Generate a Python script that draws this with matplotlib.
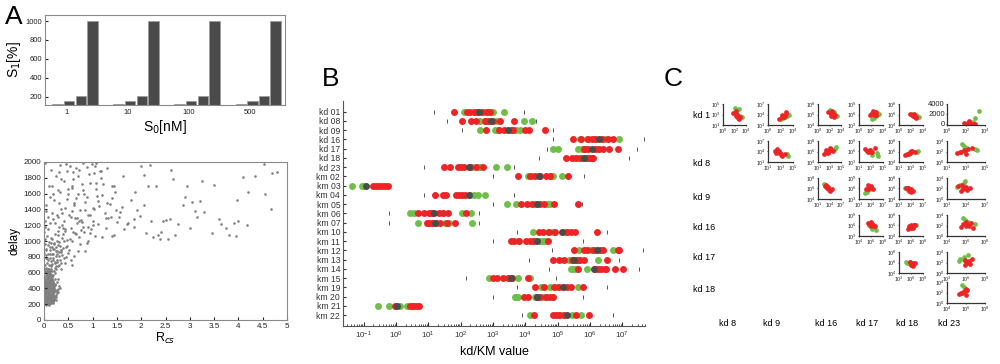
import numpy as np
import matplotlib.pyplot as plt
from matplotlib.ticker import LogLocator, NullFormatter

plt.rcParams['font.family'] = ['Liberation Sans', 'DejaVu Sans']

# ---- panel A (top): S1 per S0 concentration
conc_labels = ['1', '10', '100', '500']
s1_values = [125, 155, 205, 1000]

# ---- panel A (bottom): delay vs R_cs
rcs_dense = [0.02, 0.05, 0.08, 0.11, 0.14, 0.03, 0.07, 0.12, 0.16, 0.19, 0.01, 0.04, 0.09, 0.13, 0.18, 0.22, 0.06, 0.10, 0.15, 0.21,
             0.03, 0.08, 0.12, 0.17, 0.02, 0.06, 0.11, 0.14, 0.20, 0.24, 0.28, 0.05, 0.09, 0.13, 0.16, 0.01, 0.04, 0.07, 0.10, 0.18,
             0.23, 0.03, 0.12, 0.15, 0.19, 0.27, 0.06, 0.08, 0.11, 0.14, 0.02, 0.05, 0.17, 0.21, 0.09, 0.13, 0.30, 0.04, 0.07, 0.16,
             0.10, 0.05, 0.13, 0.08, 0.18, 0.02, 0.12, 0.25, 0.06, 0.15, 0.03, 0.09, 0.20, 0.11, 0.04, 0.14, 0.07, 0.17, 0.01, 0.22,
             0.06, 0.12, 0.03, 0.16, 0.09, 0.19, 0.02, 0.13, 0.08, 0.26, 0.05, 0.11, 0.15, 0.04, 0.21, 0.07, 0.10, 0.14, 0.18, 0.03,
             0.24, 0.09, 0.13, 0.06, 0.01, 0.17, 0.11, 0.04, 0.08, 0.19, 0.28, 0.12, 0.02, 0.15, 0.07, 0.10, 0.05, 0.23, 0.14, 0.33,
             0.015, 0.045, 0.075, 0.105, 0.135, 0.165, 0.195, 0.025, 0.055, 0.085, 0.115, 0.145, 0.175, 0.035, 0.065, 0.095, 0.125, 0.155, 0.185, 0.215,
             0.02, 0.06, 0.10, 0.14, 0.18, 0.04, 0.08, 0.12, 0.16, 0.20, 0.01, 0.05, 0.09, 0.13, 0.17, 0.03, 0.07, 0.11, 0.15, 0.19,
             0.11, 0.03, 0.15, 0.07, 0.19, 0.02, 0.14, 0.06, 0.10, 0.18, 0.23, 0.04, 0.12, 0.08, 0.16, 0.01, 0.13, 0.05, 0.09, 0.17,
             0.07, 0.13, 0.02, 0.18, 0.10, 0.05, 0.15, 0.08, 0.21, 0.03, 0.12, 0.16, 0.06, 0.26, 0.09, 0.14, 0.04, 0.11, 0.19, 0.24,
             0.04, 0.09, 0.14, 0.19, 0.06, 0.11, 0.16, 0.02, 0.08, 0.13, 0.20, 0.05, 0.10, 0.17, 0.03, 0.07, 0.12, 0.22, 0.15, 0.29]
delay_dense = [210, 250, 230, 280, 320, 360, 300, 240, 270, 350, 410, 200, 380, 330, 290, 310, 450, 420, 390, 260,
               500, 470, 440, 400, 550, 340, 520, 480, 430, 370, 390, 600, 220, 360, 510, 290, 440, 590, 310, 230,
               450, 620, 560, 330, 410, 340, 270, 380, 190, 460, 330, 420, 370, 280, 540, 210, 430, 240, 350, 620,
               260, 300, 390, 200, 470, 450, 330, 290, 480, 570, 260, 640, 380, 490, 370, 220, 400, 240, 380, 520,
               530, 600, 480, 430, 310, 570, 320, 250, 650, 480, 210, 360, 300, 280, 350, 570, 540, 500, 210, 390,
               250, 410, 470, 230, 520, 540, 270, 340, 560, 240, 520, 400, 260, 390, 440, 580, 380, 590, 640, 400,
               305, 225, 415, 335, 255, 545, 275, 465, 285, 595, 305, 525, 315, 245, 435, 355, 615, 365, 495, 405,
               455, 385, 295, 545, 345, 215, 635, 505, 405, 285, 345, 475, 265, 575, 445, 525, 215, 355, 235, 455,
               325, 265, 395, 415, 295, 605, 475, 565, 505, 335, 375, 325, 285, 485, 455, 235, 545, 405, 205, 575,
               235, 215, 425, 255, 445, 565, 495, 295, 425, 375, 465, 315, 615, 375, 355, 275, 505, 555, 485, 315,
               195, 525, 335, 395, 365, 315, 265, 505, 405, 575, 255, 655, 345, 525, 285, 485, 625, 445, 425, 355]
rcs_mid = [0.03, 0.08, 0.15, 0.22, 0.30, 0.05, 0.12, 0.19, 0.27, 0.36, 0.02, 0.10, 0.17, 0.25, 0.33, 0.42, 0.07, 0.14, 0.21, 0.29,
           0.04, 0.11, 0.18, 0.26, 0.35, 0.45, 0.55, 0.01, 0.09, 0.16, 0.24, 0.31, 0.40, 0.50, 0.62, 0.06, 0.13, 0.20, 0.28, 0.38,
           0.48, 0.58, 0.70, 0.03, 0.12, 0.23, 0.34, 0.44, 0.53, 0.65, 0.75, 0.85, 0.02, 0.14, 0.26, 0.37, 0.47, 0.60, 0.72, 0.90,
           0.08, 0.19, 0.31, 0.42, 0.55, 0.68, 0.80, 0.95, 1.05, 0.05, 0.16, 0.28, 0.39, 0.52, 0.63, 0.78, 0.88, 1.00, 0.11, 0.24,
           0.02, 0.06, 0.10, 0.14, 0.18, 0.22, 0.26, 0.30, 0.34, 0.04, 0.08, 0.12, 0.16, 0.20, 0.24, 0.28, 0.32, 0.38, 0.44, 0.01,
           0.05, 0.09, 0.13, 0.17, 0.21, 0.25, 0.29, 0.35, 0.41, 0.03, 0.07, 0.11, 0.15, 0.19, 0.23, 0.27, 0.31, 0.46, 0.52, 0.58]
delay_mid = [700, 760, 680, 720, 810, 880, 840, 900, 760, 860, 960, 990, 930, 870, 940, 1000, 1060, 1040, 970, 1080,
             820, 650, 790, 830, 720, 800, 760, 1110, 1150, 1020, 680, 990, 910, 850, 810, 780, 920, 960, 1130, 1040,
             940, 1000, 870, 1180, 1230, 1090, 890, 1150, 1020, 1090, 960, 870, 1250, 750, 870, 1200, 1010, 1120, 1050, 1000,
             1310, 1280, 1180, 1250, 1160, 1230, 1180, 1100, 1060, 1380, 1350, 1300, 1090, 1330, 1290, 1240, 970, 1200, 600, 640,
             650, 720, 610, 690, 760, 660, 740, 700, 880, 900, 840, 780, 830, 620, 920, 680, 760, 820, 720, 850,
             780, 950, 880, 710, 900, 810, 950, 640, 780, 1020, 610, 700, 980, 840, 730, 1000, 860, 930, 880, 700]
rcs_sparse = [0.05, 0.20, 0.35, 0.50, 0.62, 0.75, 0.88, 1.00, 1.12, 1.25, 0.10, 0.28, 0.42, 0.57, 0.70, 0.83, 0.95, 1.08, 1.20, 1.35,
              0.15, 0.32, 0.48, 0.66, 0.80, 0.93, 1.05, 1.18, 1.30, 1.45, 0.02, 0.25, 0.45, 0.60, 0.78, 0.98, 1.15, 1.32, 1.50, 1.65,
              1.55, 1.70, 1.85, 1.98, 2.10, 2.25, 1.60, 1.78, 1.92, 2.05, 2.20, 2.35, 1.40, 1.62, 1.88, 2.00, 2.15, 2.40, 2.55, 2.70,
              2.60, 2.85, 3.00, 3.15, 3.30, 2.45, 2.75, 2.95, 3.10, 3.25, 3.50, 3.65, 3.80, 3.95, 4.10, 2.65, 2.90, 3.05, 3.20, 3.45,
              3.60, 3.75, 3.90, 4.00, 4.20, 4.35, 4.55, 4.70, 4.80, 2.30, 2.50, 2.62, 1.02, 0.72, 0.38, 0.18, 0.55, 0.85, 1.28, 1.72,
              3.97, 4.18, 4.52, 4.68, 2.05, 2.18, 1.08, 0.90, 0.65, 0.44, 0.30, 1.40, 1.85, 2.38, 0.12, 0.70, 0.97, 1.13, 0.58, 0.83,
              0.22, 0.40, 0.58, 0.76, 0.94, 1.12, 1.30, 1.48, 0.31, 0.49, 0.67, 0.85, 1.03, 1.21, 1.39, 1.57, 0.26, 0.53, 0.81, 1.09,
              0.36, 0.63, 0.91, 1.19, 1.47, 0.44, 0.72, 1.00, 1.28, 0.17, 0.47, 0.77, 1.07, 1.37, 0.59, 0.89, 1.17, 1.44, 0.33, 0.61]
delay_sparse = [1450, 1520, 1410, 1600, 1480, 1390, 1560, 1420, 1510, 1350, 1700, 1650, 1760, 1690, 1820, 1600, 1740, 1660, 1580, 1470,
                1900, 1960, 1880, 1930, 1990, 1850, 1950, 1800, 1920, 1700, 1990, 1820, 1980, 1870, 1720, 1980, 1880, 1290, 1240, 1150,
                1300, 1220, 1180, 1320, 1100, 1050, 1430, 1520, 1390, 1460, 1250, 1080, 1700, 1820, 1620, 1950, 1700, 1110, 1020, 1080,
                1280, 1450, 1160, 1300, 1370, 1250, 1220, 1690, 1380, 1760, 1710, 1210, 1070, 1060, 1810, 1780, 1560, 1500, 1510, 1100,
                1280, 1160, 1230, 1250, 1620, 1820, 1590, 1860, 1870, 1690, 1270, 1900, 1400, 1250, 1350, 1590, 1310, 1390, 1290, 1230,
                1520, 1200, 1980, 1410, 1830, 1960, 1740, 1330, 1540, 1130, 1480, 1060, 1280, 1020, 1560, 1600, 1150, 1440, 1670, 1120,
                1230, 1170, 1380, 1260, 1330, 1210, 1480, 1390, 1870, 1660, 1290, 1490, 1860, 1720, 1550, 1370, 1330, 1950, 1650, 1570,
                1780, 1100, 1180, 1050, 1620, 1420, 1900, 1250, 1160, 1690, 1530, 1140, 1990, 1310, 1790, 1940, 1880, 1080, 1620, 1460]

# ---- panel B: log10 of kd/KM values per parameter
# (kd rows keep the same parameter-set order for red and for green, panel C pairs them)
b_names = ['kd 01', 'kd 08', 'kd 09', 'kd 16', 'kd 17', 'kd 18', 'kd 23', 'km 02', 'km 03', 'km 04', 'km 05', 'km 06',
           'km 07', 'km 10', 'km 11', 'km 12', 'km 13', 'km 14', 'km 15', 'km 19', 'km 20', 'km 21', 'km 22']
b_center = [2.58, 2.93, 3.45, 6.28, 6.07, 5.81, 2.26, 4.42, -0.94, 2.26, 4.35, 1.18,
            1.19, 5.14, 4.37, 6.23, 5.50, 6.12, 3.56, 5.15, 4.37, 0.04, 5.30]
b_low = [1.18, 1.57, 2.05, 4.87, 4.66, 4.41, 0.88, 3.01, None, 0.88, 2.99, -0.21,
         -0.21, 3.73, 2.99, 4.81, 4.12, 4.73, 2.15, 3.73, 2.99, -0.62, 3.91]
b_high = [3.97, 4.32, 4.87, 7.68, 7.46, 7.22, 3.66, 5.81, None, 3.66, 5.76, 2.58,
          2.58, 6.52, 5.77, 7.63, 6.91, 7.52, 4.95, 6.52, 5.77, None, 6.70]
b_red = [
    [2.40, 1.79, 2.80, 2.30, 2.90, 2.50, 2.20, 2.65],
    [2.85, 3.22, 2.05, 3.65, 2.47, 3.00, 2.75, 2.32],
    [3.63, 2.78, 4.10, 3.35, 4.61, 3.20, 4.00, 3.55],
    [6.15, 6.55, 5.48, 6.05, 5.95, 6.72, 5.72, 6.36],
    [6.29, 5.85, 6.60, 6.88, 5.95, 5.80, 6.40, 6.15],
    [5.69, 6.10, 5.26, 6.00, 5.43, 6.05, 5.90, 5.56],
    [2.10, 2.46, 1.67, 2.70, 2.00, 1.48, 2.30, 1.93],
    [3.76, 4.14, 4.30, 4.45, 4.64, 4.76, 5.33],
    [-0.72, -0.62, -0.52, -0.42, -0.33, -0.26],
    [1.21, 1.44, 1.55, 1.85, 1.95, 2.05, 2.13],
    [3.87, 4.04, 4.20, 4.45, 4.59, 4.89, 5.64],
    [0.69, 0.85, 1.03, 1.10, 1.34, 1.45, 1.62, 2.15],
    [0.95, 1.02, 1.10, 1.25, 1.35, 1.57, 1.82],
    [4.43, 4.56, 4.72, 4.92, 5.30, 5.40, 5.54, 6.21],
    [3.56, 3.66, 3.81, 4.02, 4.14, 4.25, 4.71],
    [5.51, 5.80, 5.92, 6.10, 6.31, 6.40, 6.85, 6.90],
    [4.84, 5.05, 5.18, 5.45, 5.60, 5.69, 5.80, 6.54],
    [5.64, 6.15, 6.25, 6.35, 6.45, 6.50, 6.77, 7.01],
    [2.99, 3.13, 3.32, 3.45, 3.58, 4.09],
    [4.30, 4.59, 4.90, 5.05, 5.28, 5.40, 5.77],
    [3.96, 4.07, 4.35, 4.45, 4.65, 4.76, 4.87],
    [-0.03, 0.43, 0.50, 0.57, 0.65, 0.72],
    [4.27, 4.84, 4.95, 5.05, 5.18, 5.57, 5.97],
]
b_green = [
    [2.75, 3.35, 2.10, 2.99, 2.45],
    [3.96, 2.60, 4.20, 2.75, 3.11],
    [3.15, 3.84, 2.60, 3.70, 3.05],
    [6.45, 5.69, 6.91, 5.90, 6.20],
    [5.64, 6.25, 4.84, 5.75, 5.00],
    [6.00, 5.58, 6.03, 5.75, 5.85],
    [2.57, 3.42, 2.35, 3.08, 2.60],
    [4.07, 4.25, 4.80, 4.87, 5.14],
    [-1.35, -1.05, -0.98],
    [2.30, 2.40, 2.55, 2.75],
    [3.44, 3.71, 4.30, 4.66, 4.75],
    [0.43, 0.57, 1.05, 1.45, 2.03, 2.31],
    [0.69, 1.20, 1.50, 1.65, 2.34],
    [4.25, 4.70, 4.84, 5.20, 5.28],
    [3.78, 4.30, 4.45, 4.55, 4.60],
    [5.67, 6.00, 6.13, 6.70],
    [5.35, 5.60, 5.62, 6.24],
    [5.40, 5.50, 5.60, 5.90],
    [2.89, 3.52, 3.60, 3.78, 4.15],
    [4.47, 4.76, 4.98, 5.20, 5.64],
    [3.68, 3.72, 3.78, 4.30, 4.55, 4.66],
    [-0.55, -0.21, 0.12, 0.35],
    [4.14, 5.10, 5.45, 5.72],
]

# ---- panel C: pairwise kd plots (indices into panel B rows)
c_row_labels = ['kd 1', 'kd 8', 'kd 9', 'kd 16', 'kd 17', 'kd 18']
c_col_labels = ['kd 8', 'kd 9', 'kd 16', 'kd 17', 'kd 18', 'kd 23']
c_row_idx = [0, 1, 2, 3, 4, 5]
c_col_idx = [1, 2, 3, 4, 5, 6]

RED = '#ee2326'
GREEN = '#6dbf48'
DARK = '#4b4b4b'

fig = plt.figure(figsize=(10, 3.64), dpi=100)


def px_axes(x0, y0, x1, y1):
    return fig.add_axes([x0 / 1000, 1 - y1 / 364, (x1 - x0) / 1000, (y1 - y0) / 364])


# ================= panel A top
ax = px_axes(45, 15, 285, 105)
w = 0.19
groups = np.arange(len(conc_labels))
for k, v in enumerate(s1_values):
    ax.bar(groups + (k - 1.5) * w, [v] * len(groups), width=0.17, bottom=0,
           color='#4a4a4a', edgecolor='#9a9a9a', linewidth=0.5)
ax.set_xlim(-0.49, 3.44)
ax.set_ylim(110, 1065)
ax.set_yticks([200, 400, 600, 800, 1000])
ax.set_xticks(groups - 0.14)
ax.set_xticklabels(conc_labels)
ax.tick_params(labelsize=5.5, length=2, direction='in', colors='#222222', pad=2)
ax.tick_params(axis='x', length=0, pad=3)
for s in ax.spines.values():
    s.set_color('#8a8a8a')
ax.set_ylabel('S$_1$[%]', fontsize=10, labelpad=2)
ax.set_xlabel('S$_0$[nM]', fontsize=10, labelpad=1)
fig.text(0.005, 0.985, 'A', fontsize=19, va='top', ha='left')

# ================= panel A bottom
ax = px_axes(44, 162, 287, 320)
ax.scatter(rcs_dense + rcs_mid + rcs_sparse, delay_dense + delay_mid + delay_sparse,
           s=3.5, color='#808080', linewidths=0)
ax.set_xlim(0, 5)
ax.set_ylim(0, 2000)
ax.set_xticks(np.arange(0, 5.01, 0.5))
ax.set_xticklabels(['0', '0.5', '1', '1.5', '2', '2.5', '3', '3.5', '4', '4.5', '5'])
ax.set_yticks(np.arange(0, 2001, 200))
ax.tick_params(labelsize=5.8, length=2, direction='in', pad=2, colors='#222222')
for s in ax.spines.values():
    s.set_color('#8a8a8a')
ax.set_ylabel('delay', fontsize=8.5, labelpad=2)
ax.set_xlabel('R$_{cs}$', fontsize=9, labelpad=1)

# ================= panel B
ax = px_axes(343, 101, 645, 326)
n = len(b_names)
for i in range(n):
    if b_low[i] is not None:
        ax.plot([10 ** b_low[i]], [i], '|', color='#555555', ms=3, mew=0.7)
    if b_high[i] is not None:
        ax.plot([10 ** b_high[i]], [i], '|', color='#555555', ms=3, mew=0.7)
    g = 10 ** np.array(b_green[i])
    r = 10 ** np.array(b_red[i])
    ax.plot(g, [i] * len(g), 'o', color=GREEN, ms=5, mec='none')
    ax.plot(r, [i] * len(r), 'o', color=RED, ms=5, mec='none')
    ax.plot([10 ** b_center[i]], [i], 'o', color=DARK, ms=5, mec='none')
ax.set_xscale('log')
ax.set_xlim(10 ** -1.64, 10 ** 7.7)
ax.set_ylim(n - 1 + 1.19, -1.16)
ax.set_yticks(range(n))
ax.set_yticklabels(b_names)
ax.xaxis.set_major_locator(LogLocator(base=10, numticks=20))
ax.xaxis.set_minor_locator(LogLocator(base=10, subs=np.arange(2, 10), numticks=20))
ax.xaxis.set_minor_formatter(NullFormatter())
ax.tick_params(axis='both', which='both', direction='in', colors='#333333')
ax.tick_params(axis='y', labelsize=6.2, length=2, pad=2)
ax.tick_params(axis='x', which='major', labelsize=5.8, length=3, pad=3)
ax.tick_params(axis='x', which='minor', length=1.8)
for side in ['top', 'right']:
    ax.spines[side].set_visible(False)
for side in ['left', 'bottom']:
    ax.spines[side].set_color('#555555')
ax.set_xlabel('kd/KM value', fontsize=9, labelpad=3)
fig.text(0.322, 0.815, 'B', fontsize=19, va='top', ha='left')

# ================= panel C
col_left = [723, 768, 818, 859, 899, 947]
col_width = [23, 25, 23, 24, 24, 38]
row_top = [104, 141, 178, 215, 252, 282]
row_h = 21
row_label_y = [115, 163, 198, 227, 257, 289]
col_label_x = [728, 772, 826, 867, 907, 949]

for i, ri in enumerate(c_row_idx):
    for j, cj in enumerate(c_col_idx):
        if j < i:
            continue
        ax = px_axes(col_left[j], row_top[i], col_left[j] + col_width[j], row_top[i] + row_h)
        xg, yg = np.array(b_green[ri]), np.array(b_green[cj])
        xr, yr = np.array(b_red[ri]), np.array(b_red[cj])
        linear_y = (i == 0 and j == len(c_col_idx) - 1)
        ax.plot(10 ** xg, 10 ** yg, 'o', color=GREEN, ms=3.4, mec='none')
        ax.plot(10 ** xr, 10 ** yr, 'o', color=RED, ms=3.4, mec='none')
        ax.set_xscale('log')
        allx = np.concatenate([xg, xr])
        lo = int(np.floor(allx.min())) - 1
        hi = lo + 2 * int(np.ceil((allx.max() + 0.4 - lo) / 2))
        ax.set_xlim(10 ** lo, 10 ** hi)
        ax.set_xticks([10 ** lo, 10 ** ((lo + hi) // 2), 10 ** hi])
        if linear_y:
            ax.set_ylim(-200, 4000)
            ax.set_yticks([0, 2000, 4000])
            ax.tick_params(axis='y', labelsize=5.5)
        else:
            ally = np.concatenate([yg, yr])
            ylo = int(np.floor(ally.min())) - 1
            yhi = ylo + 2 * int(np.ceil((ally.max() + 0.4 - ylo) / 2))
            ax.set_yscale('log')
            ax.set_ylim(10 ** ylo, 10 ** yhi)
            ax.set_yticks([10 ** ylo, 10 ** ((ylo + yhi) // 2), 10 ** yhi])
            ax.tick_params(axis='y', labelsize=3.8)
        ax.minorticks_off()
        ax.tick_params(axis='x', labelsize=3.8)
        ax.tick_params(length=1, width=0.5, pad=0.5, colors='#222222')
        for side in ['top', 'right']:
            ax.spines[side].set_visible(False)
        for side in ['left', 'bottom']:
            ax.spines[side].set_linewidth(0.9)
            ax.spines[side].set_color('#333333')

for lab, y in zip(c_row_labels, row_label_y):
    fig.text(693 / 1000, 1 - y / 364, lab, fontsize=6.5, ha='left', va='center')
for lab, x in zip(c_col_labels, col_label_x):
    fig.text(x / 1000, 1 - 323 / 364, lab, fontsize=6.5, ha='center', va='center')
fig.text(0.664, 0.815, 'C', fontsize=19, va='top', ha='left')

fig.savefig('out.png', dpi=100)
